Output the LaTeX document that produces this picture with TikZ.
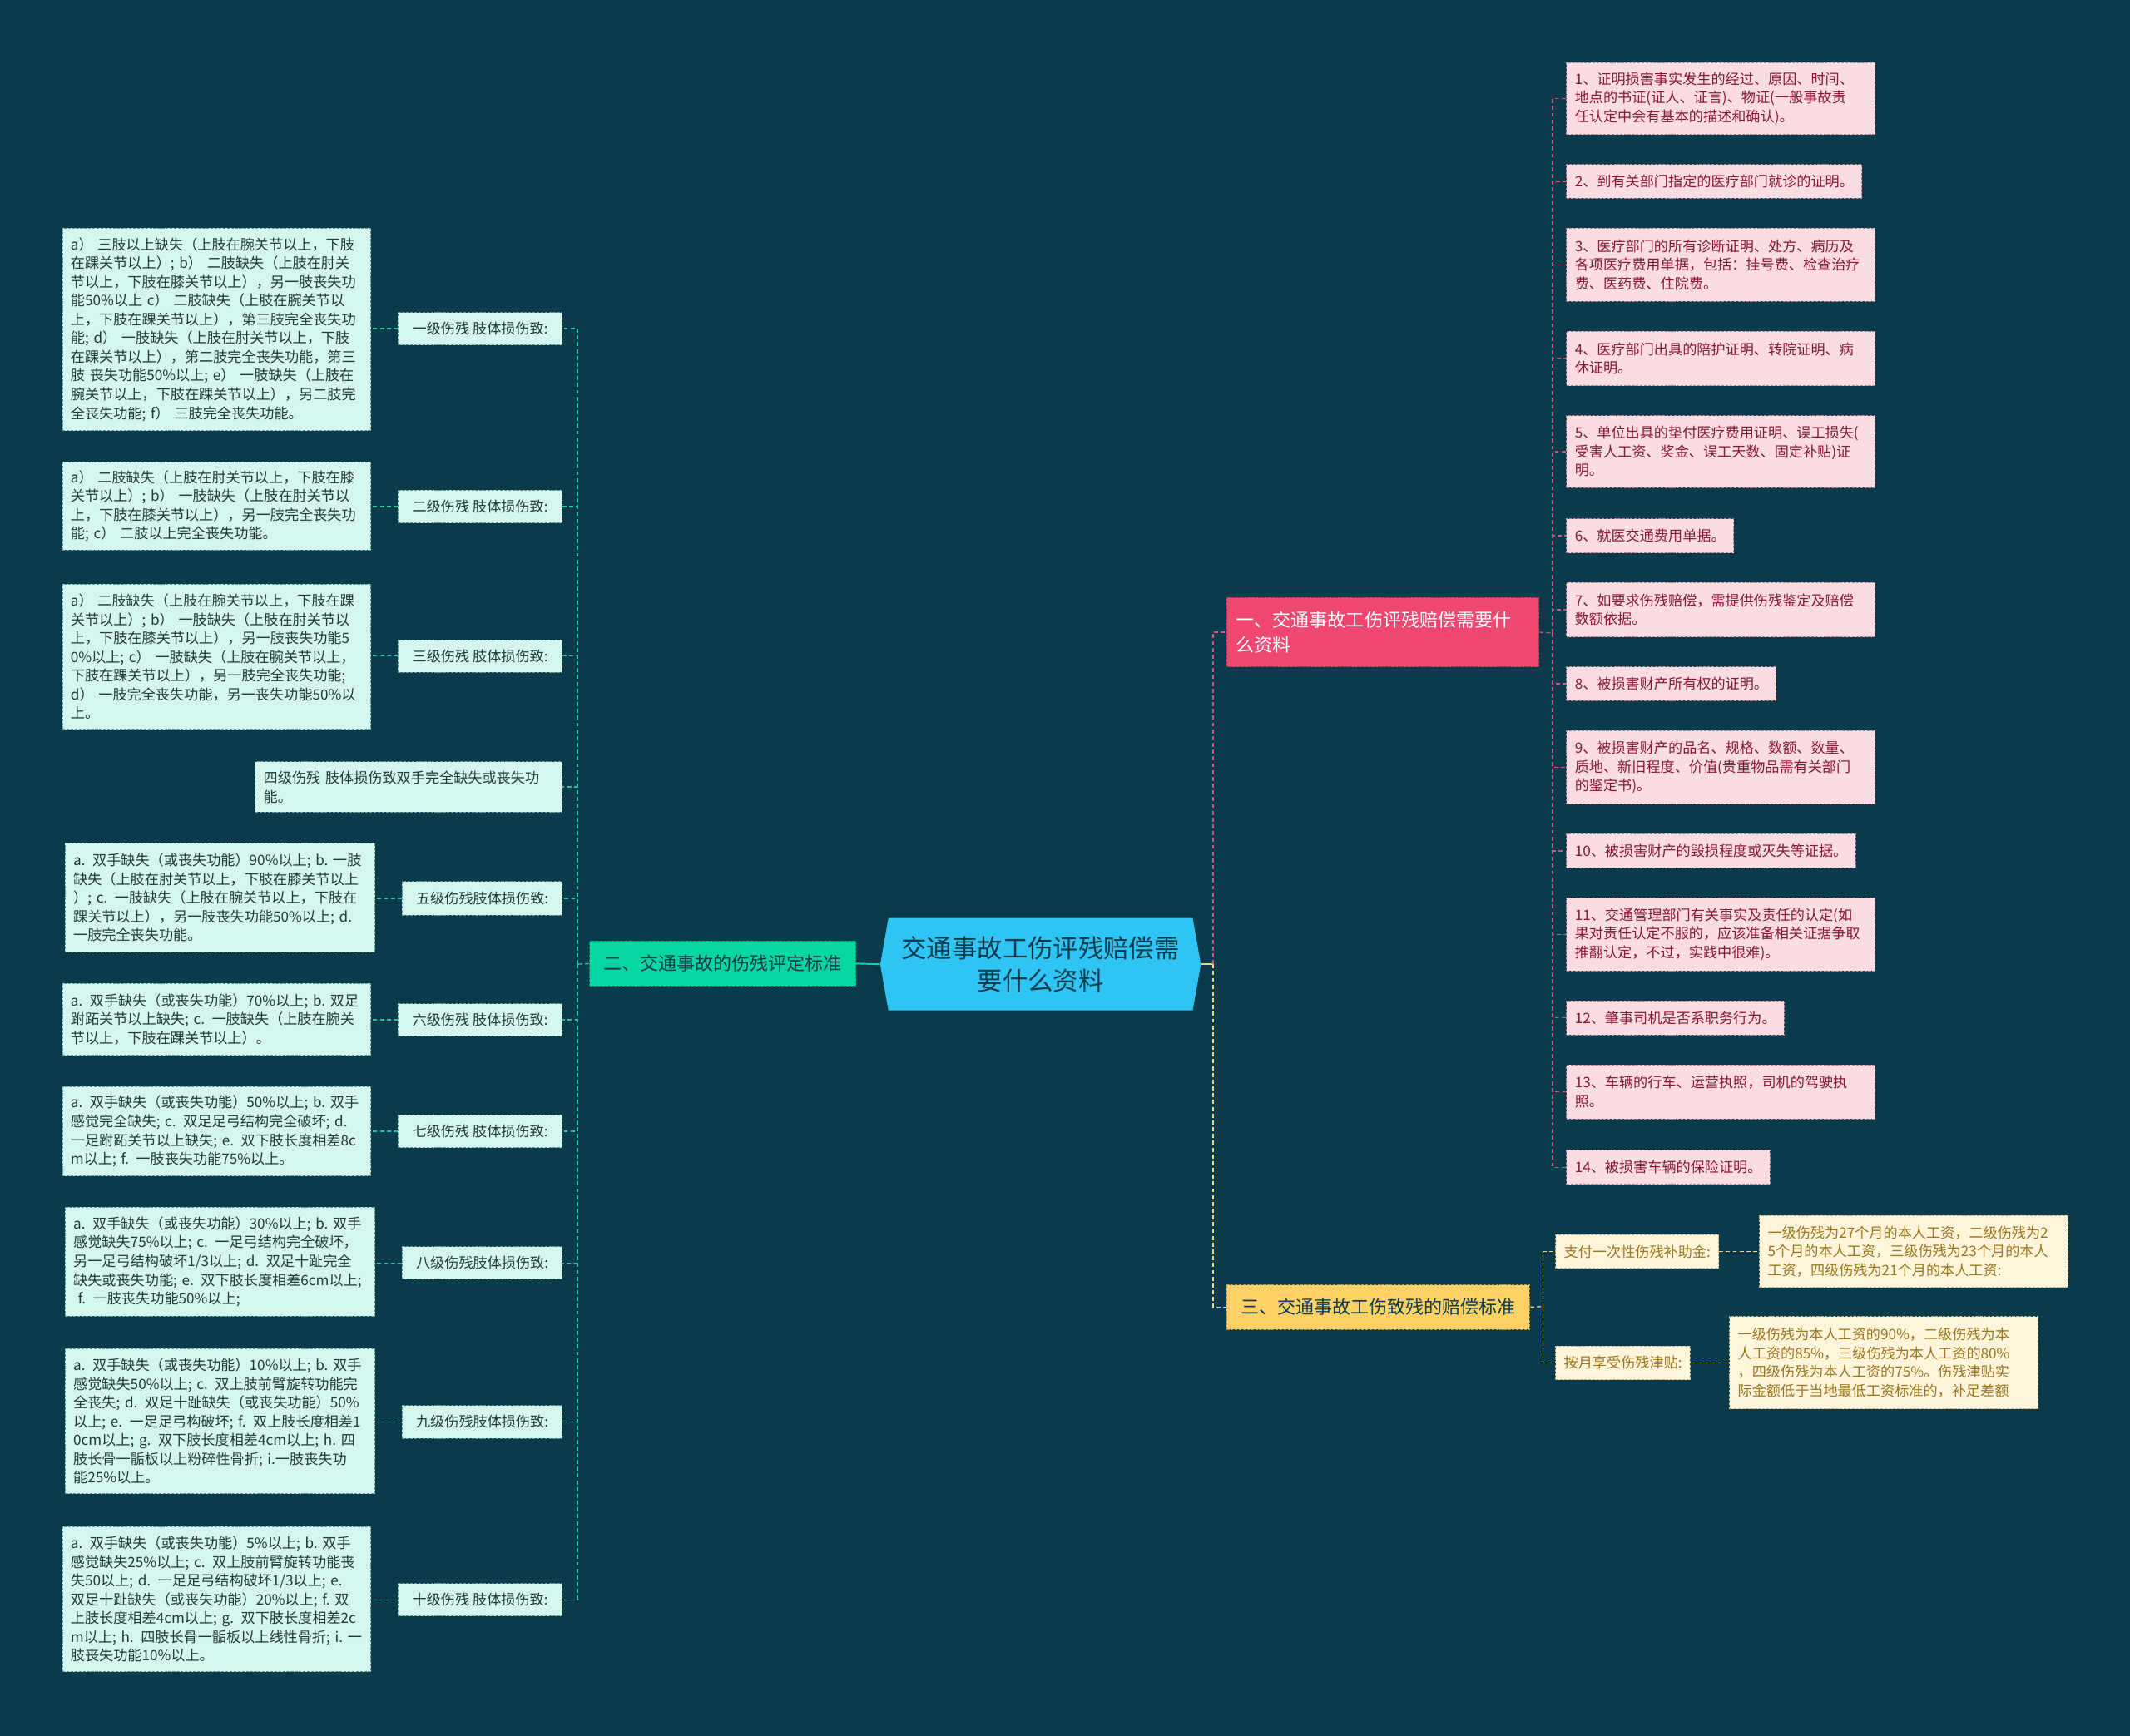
\documentclass[tikz,border=0pt]{standalone}
\usepackage{fontspec}
\setmainfont{Noto Sans CJK SC}
\usetikzlibrary{shapes.symbols}
\definecolor{bgc}{HTML}{0A3B4C}
\definecolor{cenc}{HTML}{2EC4F3}
\definecolor{grnc}{HTML}{06D6A0}
\definecolor{pnkc}{HTML}{EF476F}
\definecolor{ylwc}{HTML}{FFD166}
\definecolor{mintf}{HTML}{D4F6EE}
\definecolor{mintd}{HTML}{5E9E92}
\definecolor{mintt}{HTML}{24383A}
\definecolor{pinkf}{HTML}{FADCE3}
\definecolor{pinkd}{HTML}{B98090}
\definecolor{pinkt}{HTML}{8A1538}
\definecolor{ylwf}{HTML}{FFF5DC}
\definecolor{ylwd}{HTML}{C8B27A}
\definecolor{ylwt}{HTML}{9A771A}
\definecolor{tealln}{HTML}{26C1A1}
\definecolor{pinkln}{HTML}{D9547A}
\definecolor{ylwln}{HTML}{F2D27A}
\newcommand\fdet{\fontsize{10.5}{13.8}\selectfont}
\newcommand\fbr{\fontsize{13.5}{18}\selectfont}
\newcommand\fcen{\fontsize{18.6}{24}\selectfont}
\begin{document}
\begin{tikzpicture}[x=1pt,y=-1pt,
  bx/.style={draw, dash pattern=on 2pt off 1pt, line width=0.6pt, inner xsep=6pt, inner ysep=0pt, align=left, font=\fdet},
  mint/.style={bx, fill=mintf, draw=mintd, text=mintt},
  pinkbox/.style={bx, fill=pinkf, draw=pinkd, text=pinkt},
  ylwbox/.style={bx, fill=ylwf, draw=ylwd, text=ylwt},
  brbox/.style={draw, dash pattern=on 2pt off 1pt, line width=0.6pt, inner xsep=7pt, inner ysep=0pt, align=left, font=\fbr},
  tl/.style={draw=tealln, line width=0.8pt, dash pattern=on 3pt off 2pt},
  pl/.style={draw=pinkln, line width=0.8pt, dash pattern=on 3pt off 2pt},
  yl/.style={draw=ylwln, line width=0.8pt, dash pattern=on 3pt off 2pt}
]
\fill[bgc] (0,0) rectangle (1568,1278);
\useasboundingbox (0,0) rectangle (1568,1278);

% centre
\node[signal, signal to=west and east, signal pointer angle=160, fill=cenc, minimum width=236pt, minimum height=68pt, inner sep=0pt, align=center, font=\fcen, text=bgc] (c) at (766,710) {交通事故工伤评残赔偿需\\要什么资料};

% branches
\node[brbox, fill=grnc, draw=grnc!70!black, text=bgc, minimum width=196pt, minimum height=33pt] (b2) at (532,709.5) {二、交通事故的伤残评定标准};
\node[brbox, fill=pnkc, draw=pnkc!70!black, text=white, text width=216pt, minimum height=51pt] (b1) at (1018,465.5) {一、交通事故工伤评残赔偿需要什\\么资料};
\node[brbox, fill=ylwc, draw=ylwc!70!black, text=bgc, minimum width=223pt, minimum height=33pt] (b3) at (1014.5,962.5) {三、交通事故工伤致残的赔偿标准};

% junctions
\coordinate (jL) at (425,710);
\coordinate (jR) at (893,710);
\coordinate (jP) at (1143,466);
\coordinate (jY) at (1136,962);

% left labels
\node[mint, minimum width=121pt, minimum height=24pt, align=center] (L1) at (353.5,242) {一级伤残 肢体损伤致:};
\node[mint, minimum width=121pt, minimum height=24pt, align=center] (L2) at (353.5,373) {二级伤残 肢体损伤致:};
\node[mint, minimum width=121pt, minimum height=24pt, align=center] (L3) at (353.5,483) {三级伤残 肢体损伤致:};
\node[mint, text width=214pt, minimum height=37pt] (L4) at (301,579.5) {四级伤残 肢体损伤致双手完全缺失或丧失功\\能。};
\node[mint, minimum width=118pt, minimum height=25pt, align=center] (L5) at (355,661.5) {五级伤残肢体损伤致:};
\node[mint, minimum width=121pt, minimum height=24pt, align=center] (L6) at (353.5,751) {六级伤残 肢体损伤致:};
\node[mint, minimum width=121pt, minimum height=24pt, align=center] (L7) at (353.5,833) {七级伤残 肢体损伤致:};
\node[mint, minimum width=118pt, minimum height=24pt, align=center] (L8) at (355,930) {八级伤残肢体损伤致:};
\node[mint, minimum width=118pt, minimum height=24pt, align=center] (L9) at (355,1047) {九级伤残肢体损伤致:};
\node[mint, minimum width=121pt, minimum height=24pt, align=center] (L10) at (353.5,1178) {十级伤残 肢体损伤致:};

% left details
\node[mint, text width=215pt, minimum height=149pt] (D1) at (159.5,242.5) {a） 三肢以上缺失（上肢在腕关节以上，下肢\\在踝关节以上）; b） 二肢缺失（上肢在肘关\\节以上，下肢在膝关节以上），另一肢丧失功\\能50\%以上 c） 二肢缺失（上肢在腕关节以\\上，下肢在踝关节以上），第三肢完全丧失功\\能; d） 一肢缺失（上肢在肘关节以上，下肢\\在踝关节以上），第二肢完全丧失功能，第三\\肢 丧失功能50\%以上; e） 一肢缺失（上肢在\\腕关节以上，下肢在踝关节以上），另二肢完\\全丧失功能; f） 三肢完全丧失功能。};
\node[mint, text width=215pt, minimum height=65pt] (D2) at (159.5,372.5) {a） 二肢缺失（上肢在肘关节以上，下肢在膝\\关节以上）; b） 一肢缺失（上肢在肘关节以\\上，下肢在膝关节以上），另一肢完全丧失功\\能; c） 二肢以上完全丧失功能。};
\node[mint, text width=215pt, minimum height=107pt] (D3) at (159.5,483.5) {a） 二肢缺失（上肢在腕关节以上，下肢在踝\\关节以上）; b） 一肢缺失（上肢在肘关节以\\上，下肢在膝关节以上），另一肢丧失功能5\\0\%以上; c） 一肢缺失（上肢在腕关节以上，\\下肢在踝关节以上），另一肢完全丧失功能;\\d） 一肢完全丧失功能，另一丧失功能50\%以\\上。};
\node[mint, text width=216pt, minimum height=80pt] (D5) at (162,661) {a. 双手缺失（或丧失功能）90\%以上; b.~一肢\\缺失（上肢在肘关节以上，下肢在膝关节以上\\）; c. 一肢缺失（上肢在腕关节以上，下肢在\\踝关节以上），另一肢丧失功能50\%以上; d.\\一肢完全丧失功能。};
\node[mint, text width=215pt, minimum height=53pt] (D6) at (159.5,750.5) {a. 双手缺失（或丧失功能）70\%以上; b.~双足\\跗跖关节以上缺失; c. 一肢缺失（上肢在腕关\\节以上，下肢在踝关节以上）。};
\node[mint, text width=215pt, minimum height=66pt] (D7) at (159.5,833) {a. 双手缺失（或丧失功能）50\%以上; b.~双手\\感觉完全缺失; c. 双足足弓结构完全破坏; d.\\一足跗跖关节以上缺失; e. 双下肢长度相差8c\\m以上; f. 一肢丧失功能75\%以上。};
\node[mint, text width=216pt, minimum height=80pt] (D8) at (162,929) {a. 双手缺失（或丧失功能）30\%以上; b.~双手\\感觉缺失75\%以上; c. 一足弓结构完全破坏，\\另一足弓结构破坏1/3以上; d. 双足十趾完全\\缺失或丧失功能; e. 双下肢长度相差6cm以上;\\\ f. 一肢丧失功能50\%以上;};
\node[mint, text width=216pt, minimum height=107pt] (D9) at (162,1046.5) {a. 双手缺失（或丧失功能）10\%以上; b.~双手\\感觉缺失50\%以上; c. 双上肢前臂旋转功能完\\全丧失; d. 双足十趾缺失（或丧失功能）50\%\\以上; e. 一足足弓构破坏; f. 双上肢长度相差1\\0cm以上; g. 双下肢长度相差4cm以上; h.~四\\肢长骨一骺板以上粉碎性骨折; i.一肢丧失功\\能25\%以上。};
\node[mint, text width=215pt, minimum height=107pt] (D10) at (159.5,1177.5) {a. 双手缺失（或丧失功能）5\%以上; b.~双手\\感觉缺失25\%以上; c. 双上肢前臂旋转功能丧\\失50以上; d. 一足足弓结构破坏1/3以上; e.\\双足十趾缺失（或丧失功能）20\%以上; f.~双\\上肢长度相差4cm以上; g. 双下肢长度相差2c\\m以上; h. 四肢长骨一骺板以上线性骨折; i.~一\\肢丧失功能10\%以上。};

% right (pink) details
\node[pinkbox, anchor=west, text width=215pt, minimum height=53pt] (R1) at (1153,72.5) {1、证明损害事实发生的经过、原因、时间、\\地点的书证(证人、证言)、物证(一般事故责\\任认定中会有基本的描述和确认)。};
\node[pinkbox, anchor=west, minimum height=25pt] (R2) at (1153,133.5) {2、到有关部门指定的医疗部门就诊的证明。};
\node[pinkbox, anchor=west, text width=215pt, minimum height=54pt] (R3) at (1153,195) {3、医疗部门的所有诊断证明、处方、病历及\\各项医疗费用单据，包括：挂号费、检查治疗\\费、医药费、住院费。};
\node[pinkbox, anchor=west, text width=215pt, minimum height=40pt] (R4) at (1153,264) {4、医疗部门出具的陪护证明、转院证明、病\\休证明。};
\node[pinkbox, anchor=west, text width=215pt, minimum height=53pt] (R5) at (1153,332.5) {5、单位出具的垫付医疗费用证明、误工损失(\\受害人工资、奖金、误工天数、固定补贴)证\\明。};
\node[pinkbox, anchor=west, minimum height=25pt] (R6) at (1153,394.5) {6、就医交通费用单据。};
\node[pinkbox, anchor=west, text width=215pt, minimum height=40pt] (R7) at (1153,449) {7、如要求伤残赔偿，需提供伤残鉴定及赔偿\\数额依据。};
\node[pinkbox, anchor=west, minimum height=25pt] (R8) at (1153,503.5) {8、被损害财产所有权的证明。};
\node[pinkbox, anchor=west, text width=215pt, minimum height=54pt] (R9) at (1153,565) {9、被损害财产的品名、规格、数额、数量、\\质地、新旧程度、价值(贵重物品需有关部门\\的鉴定书)。};
\node[pinkbox, anchor=west, minimum height=25pt] (R10) at (1153,626.5) {10、被损害财产的毁损程度或灭失等证据。};
\node[pinkbox, anchor=west, text width=215pt, minimum height=54pt] (R11) at (1153,688) {11、交通管理部门有关事实及责任的认定(如\\果对责任认定不服的，应该准备相关证据争取\\推翻认定，不过，实践中很难)。};
\node[pinkbox, anchor=west, minimum height=25pt] (R12) at (1153,749.5) {12、肇事司机是否系职务行为。};
\node[pinkbox, anchor=west, text width=215pt, minimum height=40pt] (R13) at (1153,804) {13、车辆的行车、运营执照，司机的驾驶执\\照。};
\node[pinkbox, anchor=west, minimum height=25pt] (R14) at (1153,859.5) {14、被损害车辆的保险证明。};

% yellow
\node[ylwbox, anchor=west, minimum height=25pt] (Y1) at (1145,921.5) {支付一次性伤残补助金:};
\node[ylwbox, anchor=west, minimum height=25pt] (Y2) at (1145,1003.5) {按月享受伤残津贴:};
\node[ylwbox, anchor=west, text width=215pt, minimum height=53pt] (Y1d) at (1295,921.5) {一级伤残为27个月的本人工资，二级伤残为2\\5个月的本人工资，三级伤残为23个月的本人\\工资，四级伤残为21个月的本人工资:};
\node[ylwbox, anchor=west, text width=215pt, minimum height=68pt] (Y2d) at (1273,1003.5) {一级伤残为本人工资的90\%，二级伤残为本\\人工资的85\%，三级伤残为本人工资的80\%\\，四级伤残为本人工资的75\%。伤残津贴实\\际金额低于当地最低工资标准的，补足差额};

% connectors
\draw[draw=grnc, line width=1.2pt] (c.west) -- (b2.east);
\draw[tl] (b2.west) -- (jL);
\foreach \n in {L1,L2,L3,L4,L5,L6,L7,L8,L9,L10} { \draw[tl] (jL) |- (\n.east); }
\foreach \l/\d in {L1/D1,L2/D2,L3/D3,L5/D5,L6/D6,L7/D7,L8/D8,L9/D9,L10/D10} { \draw[tl] (\l.west) -- (\d.east |- \l.west); }
\draw[draw=ylwln, line width=1.2pt] (c.east) -- (jR);
\draw[pl] (jR) |- (b1.west);
\draw[yl] (jR) |- (b3.west);
\draw[pl] (b1.east) -- (jP);
\foreach \n in {R1,R2,R3,R4,R5,R6,R7,R8,R9,R10,R11,R12,R13,R14} { \draw[pl] (jP) |- (\n.west); }
\draw[yl] (b3.east) -- (jY);
\draw[yl] (jY) |- (Y1.west);
\draw[yl] (jY) |- (Y2.west);
\draw[yl] (Y1.east) -- (Y1d.west);
\draw[yl] (Y2.east) -- (Y2d.west);
\end{tikzpicture}
\end{document}
